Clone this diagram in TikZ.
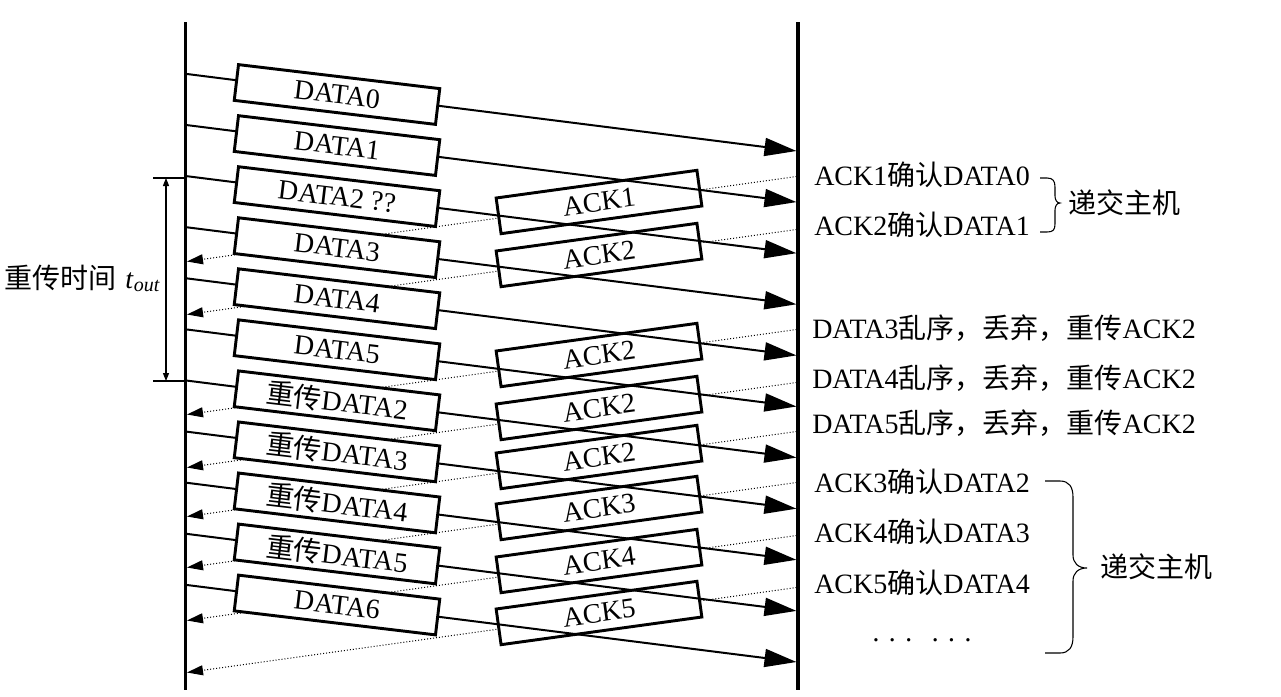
\documentclass[tikz,border=0pt]{standalone}
\usepackage{fontspec}
\setmainfont{Liberation Serif}
\newfontfamily\cjk{Noto Sans CJK SC}
\newcommand\cjktext[1]{{\cjk #1}}
\usetikzlibrary{arrows.meta}
\begin{document}
\begin{tikzpicture}[x=0.75pt,y=-0.75pt,
  font=\fontsize{21}{25}\selectfont,
  bar/.style={line width=2.6pt},
  dline/.style={line width=1.5pt,-{Triangle[length=24pt,width=13.5pt]}},
  aline/.style={line width=0.75pt,dash pattern=on 0.75pt off 1.5pt,-{Triangle[length=12pt,width=7.5pt]}},
  box/.style={draw,line width=2.2pt,fill=white,minimum width=152pt,minimum height=27pt,inner sep=0pt},
  databox/.style={box,rotate=-6.8},
  ackbox/.style={box,rotate=7.85},
  thinline/.style={line width=0.8pt},
  note/.style={anchor=base west,inner sep=0pt}]
\useasboundingbox (0,0) rectangle (1281,696);
% time lines
\coordinate (Lt) at (185.5,22); \coordinate (Lb) at (185.5,690);
\coordinate (Rt) at (798,22);   \coordinate (Rb) at (798,690);
\draw[bar] (Lt) -- (Lb);
\draw[bar] (Rt) -- (Rb);
% ACK lines (dotted) and ACK boxes
\foreach \k/\c in {1/202,2/255,3/355,4/408,5/457,6/508,7/561,8/613}{
  \coordinate (aR\k) at (796.5,{\c-25.5});
  \coordinate (aL\k) at (187,{\c+59.5});
  \draw[aline] (aR\k) -- (aL\k);
}
\foreach \k/\c/\t in {1/202/ACK1,2/255/ACK2,3/355/ACK2,4/408/ACK2,5/457/ACK2,6/508/ACK3,7/561/ACK4,8/613/ACK5}{
  \node[ackbox] (ab\k) at (599,\c) {\t};
}
% DATA lines and boxes
\foreach \i in {0,...,10}{
  \coordinate (dL\i) at (187,{74+51.1*\i});
  \coordinate (dR\i) at (796.5,{151+51.1*\i});
  \draw[dline] (dL\i) -- (dR\i);
}
\foreach \i/\t in {0/DATA0,1/DATA1,2/DATA2 ??,3/DATA3,4/DATA4,5/DATA5,
  6/\cjktext{重传}DATA2,7/\cjktext{重传}DATA3,8/\cjktext{重传}DATA4,9/\cjktext{重传}DATA5,10/DATA6}{
  \node[databox] (db\i) at (337,{94.5+51.05*\i}) {\t};
}
% timeout
\coordinate (tTs) at (153,178); \coordinate (tTe) at (185.5,178);
\coordinate (tBs) at (153,381); \coordinate (tBe) at (185.5,381);
\coordinate (vT) at (166,178); \coordinate (vB) at (166,381);
\draw[thinline] (tTs) -- (tTe);
\draw[thinline] (tBs) -- (tBe);
\draw[thinline,{Triangle[length=6pt,width=4.5pt]}-{Triangle[length=6pt,width=4.5pt]}] (vT) -- (vB);
\node[anchor=base east,inner sep=0pt] (tlabel) at (160,288)
  {\cjktext{重传时间}\hspace{7pt}\textit{t}\raisebox{-0.25ex}{\fontsize{15}{15}\selectfont\textit{out}}};
% right notes
\node[note] (n1) at (814,185) {ACK1\cjktext{确认}DATA0};
\node[note] (n2) at (814,235) {ACK2\cjktext{确认}DATA1};
\node[note] (n3) at (812,338) {DATA3\cjktext{乱序，丢弃，重传}ACK2};
\node[note] (n4) at (812,388) {DATA4\cjktext{乱序，丢弃，重传}ACK2};
\node[note] (n5) at (812,433) {DATA5\cjktext{乱序，丢弃，重传}ACK2};
\node[note] (n6) at (814,492) {ACK3\cjktext{确认}DATA2};
\node[note] (n7) at (814,542) {ACK4\cjktext{确认}DATA3};
\node[note] (n8) at (814,593) {ACK5\cjktext{确认}DATA4};
\node (dots) at (922,644) {· · ·\hspace{13pt}· · ·};
% braces
\draw[thinline] (1040,178) -- (1047,178) .. controls (1053,178) and (1055,181) .. (1055,187)
  -- (1055,196) .. controls (1055,200) and (1057,203) .. (1060,203)
  .. controls (1057,203) and (1055,206) .. (1055,210)
  -- (1055,224) .. controls (1055,230) and (1053,232) .. (1047,232) -- (1040,232);
\node[anchor=west,inner sep=0pt] (h1) at (1068,203) {\cjktext{递交主机}};
\draw[thinline] (1045,481) -- (1060,481) .. controls (1069,481) and (1073,487) .. (1073,497)
  -- (1073,555) .. controls (1073,563) and (1078,568) .. (1087,568)
  .. controls (1078,568) and (1073,573) .. (1073,581)
  -- (1073,637) .. controls (1073,647) and (1069,653) .. (1060,653) -- (1045,653);
\node[anchor=west,inner sep=0pt] (h2) at (1100,567) {\cjktext{递交主机}};
\end{tikzpicture}
\end{document}
